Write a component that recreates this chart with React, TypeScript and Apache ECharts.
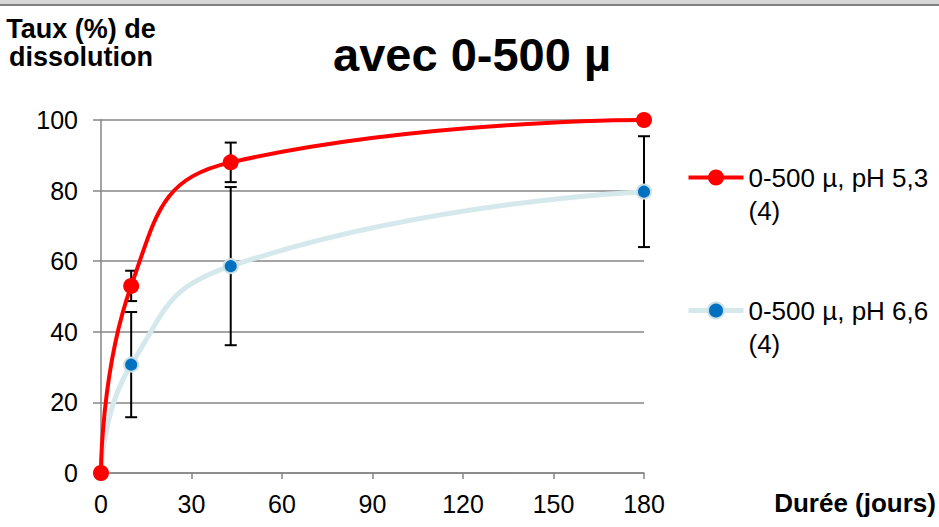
import React, { useEffect, useRef } from "react";
import * as echarts from "echarts";

const days = [0, 10, 43, 180];
const ph53 = [0, 53, 88, 100];
const ph53Err = [0, 4.3, 5.6, 0];
const ph66 = [0, 30.7, 58.6, 79.7];
const ph66Err = [0, 14.9, 22.4, 15.7];
const name53 = "0-500 µ, pH 5,3\n(4)";
const name66 = "0-500 µ, pH 6,6\n(4)";
const titleText = "avec 0-500 µ";
const yName = "Taux (%) de\ndissolution";
const xName = "Durée (jours)";

const FONT = "'Liberation Sans', Arial, sans-serif";

export default function App() {
  const ref = useRef<HTMLDivElement>(null);
  useEffect(() => {
    const chart = echarts.init(ref.current!, undefined, { renderer: "svg" });
    const errData: number[][] = [];
    days.forEach((d, i) => {
      if (ph53Err[i] > 0) errData.push([d, ph53[i] - ph53Err[i], ph53[i] + ph53Err[i]]);
      if (ph66Err[i] > 0) errData.push([d, ph66[i] - ph66Err[i], ph66[i] + ph66Err[i]]);
    });
    const errSeries = {
      type: "custom",
      name: "err",
      z: 1,
      silent: true,
      renderItem: (params: any, api: any) => {
        const x = api.value(0);
        const lo = api.coord([x, api.value(1)]);
        const hi = api.coord([x, api.value(2)]);
        const w = 6;
        const style = { stroke: "#000", lineWidth: 2 };
        return {
          type: "group",
          children: [
            { type: "line", shape: { x1: lo[0], y1: lo[1], x2: hi[0], y2: hi[1] }, style },
            { type: "line", shape: { x1: lo[0] - w, y1: lo[1], x2: lo[0] + w, y2: lo[1] }, style },
            { type: "line", shape: { x1: hi[0] - w, y1: hi[1], x2: hi[0] + w, y2: hi[1] }, style },
          ],
        };
      },
      encode: { x: 0, y: [1, 2] },
      data: errData,
    };
    chart.setOption({
      animation: false,
      backgroundColor: "#fff",
      textStyle: { fontFamily: FONT },
      title: {
        text: titleText,
        left: 467,
        top: 26,
        textAlign: "center",
        textStyle: { fontFamily: FONT, fontWeight: "bold", fontSize: 47, color: "#000" },
      },
      legend: {
        orient: "vertical",
        left: 686,
        top: 128,
        padding: 0,
        itemGap: 34,
        itemWidth: 55,
        itemHeight: 20,
        data: [
          { name: name53, lineStyle: { width: 4 } },
          { name: name66, lineStyle: { width: 5 } },
        ],
        formatter: (n: string) => " \n" + n,
        textStyle: {
          fontFamily: FONT,
          fontSize: 26,
          lineHeight: 33,
          color: "#000",
        },
      },
      grid: { left: 101, right: 294, top: 120, bottom: 54 },
      xAxis: {
        type: "value",
        min: 0,
        max: 180,
        interval: 30,
        name: xName,
        nameLocation: "end",
        nameGap: 0,
        nameTextStyle: {
          fontFamily: FONT,
          fontWeight: "bold",
          fontSize: 26,
          color: "#000",
          align: "right",
          verticalAlign: "top",
          padding: [17, -292, 0, 0],
        },
        splitLine: { show: false },
        axisLine: { show: true, lineStyle: { color: "#868686", width: 1.5 } },
        axisTick: { show: true, length: 6, lineStyle: { color: "#868686", width: 1.5 } },
        axisLabel: { fontFamily: FONT, fontSize: 25, color: "#000", margin: 18 },
      },
      yAxis: {
        type: "value",
        min: 0,
        max: 100,
        interval: 20,
        name: yName,
        nameLocation: "end",
        nameGap: 0,
        nameMoveOverlap: false,
        nameTextStyle: {
          fontFamily: FONT,
          fontWeight: "bold",
          fontSize: 27,
          lineHeight: 28,
          color: "#000",
          align: "center",
          verticalAlign: "bottom",
          padding: [0, 40, 49, 0],
        },
        splitLine: { show: true, lineStyle: { color: "#868686", width: 1.5 } },
        axisLine: { show: true, lineStyle: { color: "#868686", width: 1.5 } },
        axisTick: { show: true, length: 8, lineStyle: { color: "#868686", width: 1.5 } },
        axisLabel: { fontFamily: FONT, fontSize: 25, color: "#000", margin: 23 },
      },
      series: [
        errSeries,
        {
          type: "line",
          name: name66,
          z: 3,
          smooth: 0.5,
          data: days.map((d, i) => [d, ph66[i]]),
          lineStyle: { color: "#d5e9ec", width: 5 },
          symbol: "circle",
          symbolSize: 14,
          itemStyle: { color: "#0070c0", borderColor: "#c9dfe3", borderWidth: 2 },
        },
        {
          type: "line",
          name: name53,
          z: 4,
          smooth: 0.5,
          data: days.map((d, i) => [d, ph53[i]]),
          lineStyle: { color: "#ff0000", width: 4 },
          symbol: "circle",
          symbolSize: 16,
          itemStyle: { color: "#ff0000" },
        },
      ],
      graphic: [
        { type: "rect", shape: { x: 0, y: 0, width: 939, height: 4 }, style: { fill: "#d6d6d6" } },
        { type: "line", shape: { x1: 0, y1: 5, x2: 939, y2: 5 }, style: { stroke: "#808080", lineWidth: 2 } },
      ],
    });
    return () => chart.dispose();
  }, []);
  return (
    <div
      ref={ref}
      style={{ position: "fixed", left: 0, top: 0, width: 939, height: 527, background: "#fff" }}
    />
  );
}
